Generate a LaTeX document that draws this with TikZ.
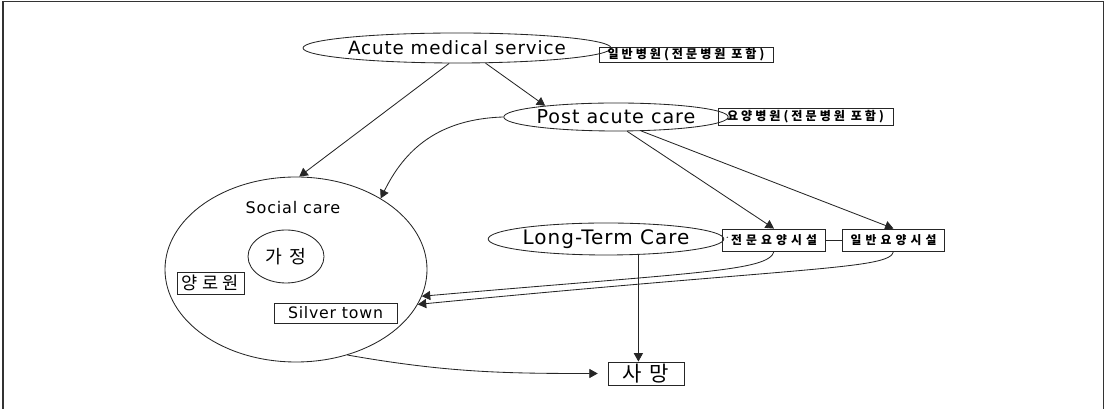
\documentclass[tikz,border=0pt]{standalone}
\usepackage{fontspec}
\usepackage{tikz}
\usetikzlibrary{arrows.meta,shapes.geometric}
\newfontfamily\latfont[LetterSpace=5]{DejaVu Sans}
\newfontfamily\krfont[LetterSpace=25]{Noto Sans CJK KR}
\newfontfamily\krwide[LetterSpace=35]{Noto Sans CJK KR}
\definecolor{lineGray}{HTML}{262626}

\begin{document}
\begin{tikzpicture}[
    line width=0.6pt,
    oval/.style={ellipse,draw=lineGray,inner sep=0pt},
    tag/.style={rectangle,draw=lineGray,inner sep=0pt,
                font=\krfont\bfseries\fontsize{8.6}{9}\selectfont},
    facil/.style={rectangle,draw=lineGray,inner sep=0pt,
                  minimum width=2.56cm,minimum height=0.55cm,
                  font=\krwide\bfseries\fontsize{8.4}{9}\selectfont},
    plain/.style={rectangle,draw=lineGray,inner sep=0pt},
    arr/.style={-{Triangle[length=6pt,width=6.5pt]},lineGray}
  ]
  \useasboundingbox (0,0) rectangle (27.65,10.225);
  %% frame
  \draw[line width=1pt,black!80] (0.075,-0.3) -- (0.075,10.19) -- (27.59,10.19) -- (27.59,-0.3);
  %% medical side
  \node[oval,minimum width=6.175cm,minimum height=0.75cm,
        font=\latfont\fontsize{13}{14}\selectfont] (acute) at (11.425,9.025) {Acute medical service};
  \node[tag,minimum width=4.35cm,minimum height=0.375cm] (hosp) at (17.15,8.8625) {일반병원(전문병원 포함)};
  \node[oval,minimum width=4.575cm,minimum height=0.7cm,
        font=\latfont\fontsize{13.6}{14}\selectfont] (post) at (15.4,7.3) {Post acute care};
  \node[tag,minimum width=4.375cm,minimum height=0.425cm] (rehab) at (20.1375,7.3125) {요양병원(전문병원 포함)};
  %% social care
  \node[oval,minimum width=6.55cm,minimum height=4.625cm] (social) at (7.4,3.4875) {};
  \node[font=\latfont\fontsize{11.4}{12}\selectfont] (socialtxt) at (7.325,5.0375) {Social care};
  \node[oval,minimum width=1.9cm,minimum height=1.325cm,
        font=\krwide\fontsize{13}{14}\selectfont] (home) at (7.15,3.8125) {가정};
  \node[plain,minimum width=1.675cm,minimum height=0.55cm,
        font=\krfont\fontsize{12.5}{13}\selectfont] (elder) at (5.2625,3.15) {양로원};
  \node[plain,minimum width=3.075cm,minimum height=0.5cm,
        font=\latfont\fontsize{11.2}{12}\selectfont] (silver) at (8.3875,2.4) {Silver town};
  %% long-term care
  \node[oval,minimum width=5.05cm,minimum height=0.8cm,
        font=\latfont\fontsize{14.2}{15}\selectfont] (ltc) at (15.15,4.25) {Long-Term Care};
  \node[facil] (special) at (19.35,4.225) {전문요양시설};
  \node[facil] (general) at (22.3375,4.225) {일반요양시설};
  \node[plain,minimum width=1.9cm,minimum height=0.575cm,
        font=\krwide\fontsize{15}{16}\selectfont] (death) at (16.15,0.8875) {사망};
  %% connectors
  \draw[arr] (acute.243) -- (social.88);
  \draw[arr] (acute.332) -- (post.171);
  \draw[arr] (post.west) .. controls +(-1.625,-0.05) and +(0.6,1.225) .. (social.40);
  \draw[arr] (post.-52) -- (special.north);
  \draw[arr] (post.-29) -- (general.north);
  \draw[lineGray,shorten <=2pt,shorten >=4.5pt] (ltc.east) -- (special.west);
  \draw[lineGray] (special.east) -- (general.west);
  \draw[arr] (ltc.-26) -- (ltc.-26 |- death.north);
  \draw[arr] (special.south) .. controls +(-0.125,-0.5) and +(6.875,0.6) .. (social.-12);
  \draw[arr] (general.south) .. controls +(-0.075,-0.45) and +(9.8,0.95) .. (social.-16);
  \draw[arr,shorten >=7pt] (social.-59) to[out=-10,in=180] (death.west);
\end{tikzpicture}
\end{document}
